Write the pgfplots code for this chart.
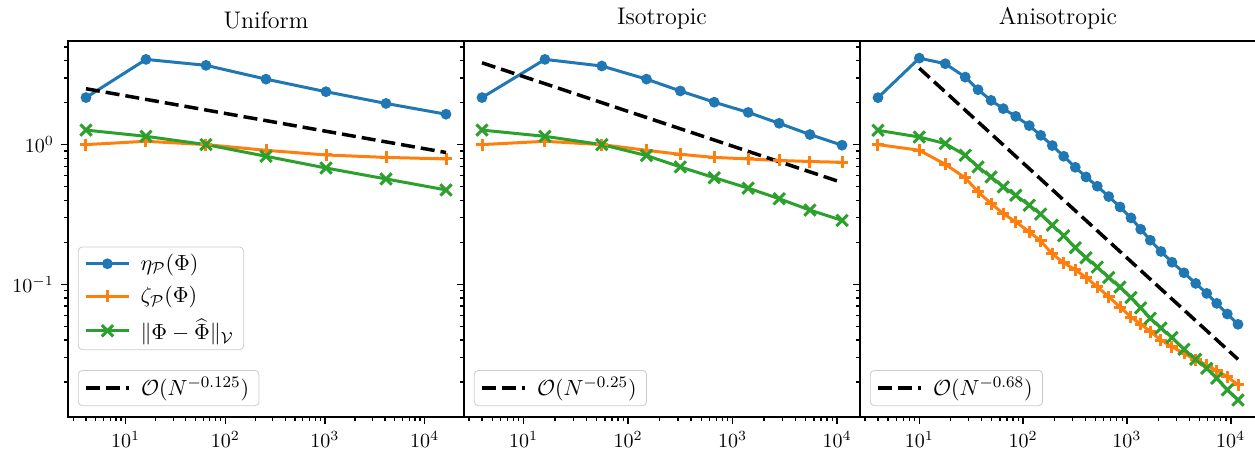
\documentclass[border=0pt]{standalone}
\usepackage{pgfplots}
\pgfplotsset{compat=1.18}
\definecolor{tabblue}{HTML}{1F77B4}
\definecolor{taborange}{HTML}{FF7F0E}
\definecolor{tabgreen}{HTML}{2CA02C}
\tikzset{
  eta/.style={tabblue, line width=1.5pt, mark=*, mark size=1.9pt},
  zeta/.style={taborange, line width=1.5pt, mark=+, mark size=3pt},
  err/.style={tabgreen, line width=1.5pt, mark=x, mark size=4pt},
  rate/.style={black, line width=1.75pt, dash pattern=on 7pt off 3pt},
}
\pgfplotsset{
  mypanel/.style={
    scale only axis, width=198pt, height=188pt,
    ymin=0.01125, ymax=5.51,
    tick align=outside, tick pos=left,
    major tick length=3.5pt, minor tick length=2pt,
    axis line style={line width=0.8pt},
    tick style={black, line width=0.8pt},
    minor tick style={black, line width=0.6pt},
    title style={font=\large, yshift=-3.5pt},
    legend cell align=left,
    legend style={draw=black!20, rounded corners=2pt, fill=white,
      font=\fontsize{11}{13}\selectfont, row sep=2.5pt, inner xsep=3pt, inner ysep=1.5pt,
      /tikz/every odd column/.append style={column sep=3pt}},
    legend image code/.code={\draw[mark repeat=2,mark phase=2] plot coordinates {(0cm,0cm) (0.38cm,0cm) (0.76cm,0cm)};},
  },
}
\begin{document}
\begin{tikzpicture}
% ---- Uniform ----
\begin{axis}[xmode=log, ymode=log, mypanel, name=a1, xmin=2.64, xmax=24830, title={Uniform},
  legend style={at={(axis description cs:0.025,0.178)}, anchor=south west}]
\addplot[eta] coordinates {(4,2.17) (16,4.07) (64,3.69) (256,2.94) (1024,2.39) (4096,1.97) (16384,1.65)};
\addlegendentry{$\eta_{\mathcal{P}}(\Phi)$}
\addplot[zeta] coordinates {(4,1.0) (16,1.056) (64,1.0) (256,0.91) (1024,0.843) (4096,0.81) (16384,0.79)};
\addlegendentry{$\zeta_{\mathcal{P}}(\Phi)$}
\addplot[err] coordinates {(4,1.27) (16,1.146) (64,1.0) (256,0.825) (1024,0.68) (4096,0.568) (16384,0.474)};
\addlegendentry{$\|\Phi - \widehat{\Phi}\|_{\mathcal{V}}$}
\end{axis}
\begin{axis}[xmode=log, ymode=log, mypanel, hide axis, at={(a1.south west)}, anchor=south west, xmin=2.64, xmax=24830,
  legend style={at={(axis description cs:0.025,0.029)}, anchor=south west}]
\addplot[rate, no marks] coordinates {(4,2.51) (16384,0.878)};
\addlegendentry{$\mathcal{O}(N^{-0.125})$}
\end{axis}
% ---- Isotropic ----
\begin{axis}[xmode=log, ymode=log, mypanel, name=a2, at={(a1.south east)}, anchor=south west,
  xmin=2.69, xmax=16560, yticklabel=\empty, title={Isotropic},
  legend style={at={(axis description cs:0.025,0.029)}, anchor=south west}]
\addplot[eta, forget plot] coordinates {(4,2.17) (16,4.07) (56,3.65) (150,2.94) (316,2.42) (667,2.01) (1410,1.70) (2790,1.42) (5500,1.18) (11150,0.99)};
\addplot[zeta, forget plot] coordinates {(4,1.0) (16,1.056) (56,1.0) (150,0.91) (316,0.852) (667,0.81) (1410,0.79) (2790,0.77) (5500,0.757) (11150,0.747)};
\addplot[err, forget plot] coordinates {(4,1.27) (16,1.146) (56,1.0) (150,0.835) (316,0.692) (667,0.58) (1410,0.488) (2790,0.41) (5500,0.34) (11150,0.287)};
\addplot[rate, no marks] coordinates {(4,3.85) (11150,0.535)};
\addlegendentry{$\mathcal{O}(N^{-0.25})$}
\end{axis}
% ---- Anisotropic ----
\begin{axis}[xmode=log, ymode=log, mypanel, name=a3, at={(a2.south east)}, anchor=south west,
  xmin=2.684, xmax=17530, yticklabel=\empty, title={Anisotropic},
  legend style={at={(axis description cs:0.025,0.029)}, anchor=south west}]
\addplot[eta, forget plot] coordinates {(4,2.167) (10,4.155) (17.8,3.79) (27.7,3.04) (36.8,2.471) (49.1,2.072) (64.4,1.808) (84.9,1.593) (114.7,1.367) (147.7,1.165) (191.1,0.984) (246.1,0.825) (318.4,0.688) (403.6,0.587) (518.5,0.504) (667.9,0.425) (858,0.358) (1095,0.299) (1358,0.248) (1680,0.207) (2130,0.172) (2719,0.144) (3549,0.121) (4600,0.1016) (5873,0.0862) (7331,0.0732) (9273,0.0614) (11760,0.0518)};
\addplot[zeta, forget plot] coordinates {(4,1.0) (10,0.911) (17.8,0.723) (27.7,0.579) (36.8,0.459) (49.1,0.379) (64.4,0.321) (84.9,0.280) (114.7,0.2375) (147.7,0.2045) (191.1,0.165) (246.1,0.143) (318.4,0.127) (403.6,0.112) (518.5,0.0961) (667.9,0.0815) (858,0.0689) (1095,0.0584) (1358,0.0520) (1680,0.0460) (2130,0.0400) (2719,0.0358) (3549,0.0321) (4600,0.0288) (5873,0.0265) (7331,0.0241) (9273,0.0219) (11760,0.0191)};
\addplot[err, forget plot] coordinates {(4,1.265) (10,1.133) (17.8,1.017) (27.7,0.839) (36.8,0.692) (49.1,0.587) (64.4,0.498) (84.9,0.434) (114.7,0.368) (147.7,0.318) (191.1,0.265) (246.1,0.223) (318.4,0.183) (403.6,0.155) (518.5,0.133) (667.9,0.112) (858,0.0956) (1095,0.0805) (1358,0.0679) (1680,0.0572) (2130,0.0487) (2719,0.0417) (3549,0.0343) (4600,0.0291) (5873,0.0251) (7331,0.0213) (9273,0.0176) (11760,0.0149)};
\addplot[rate, no marks] coordinates {(10,3.52) (11760,0.0291)};
\addlegendentry{$\mathcal{O}(N^{-0.68})$}
\end{axis}
\pgfresetboundingbox
\path[use as bounding box] ([shift={(-34pt,-18.5pt)}]a1.south west) rectangle ([shift={(-0.5pt,20.5pt)}]a3.north east);
\end{tikzpicture}
\end{document}
